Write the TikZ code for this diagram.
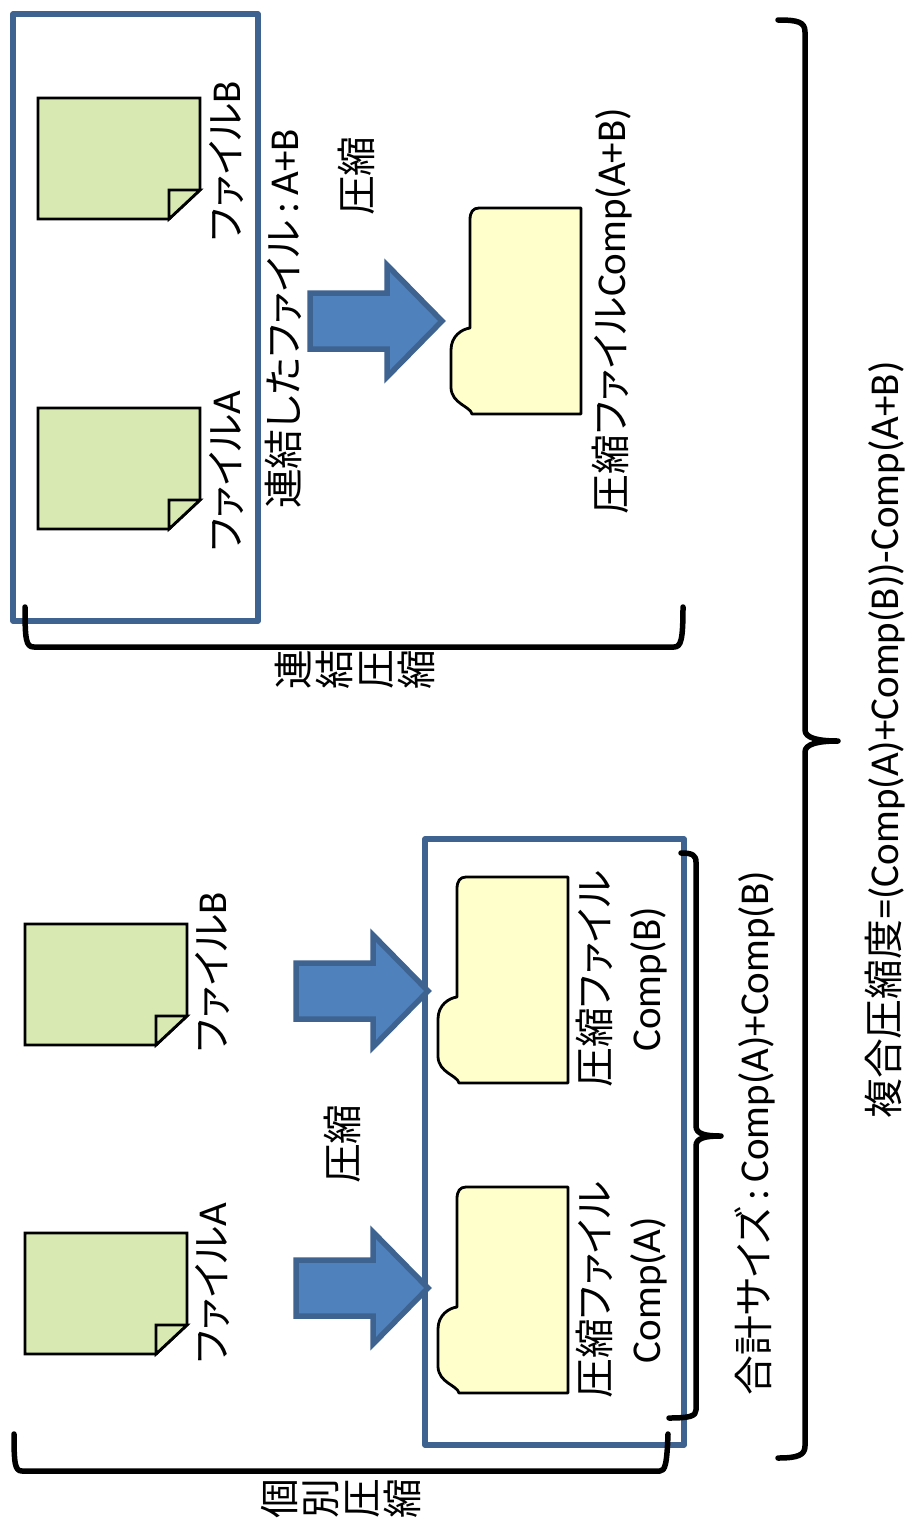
\documentclass[tikz,border=0pt]{standalone}
\usepackage{fontspec}
\usetikzlibrary{positioning}
\setmainfont{Carlito}
\newfontfamily\jp[Scale=0.97,RawFeature=+palt]{Noto Sans CJK JP}
\definecolor{framecol}{HTML}{3E6390}
\definecolor{arrowcol}{HTML}{4F81BD}
\definecolor{docgreen}{HTML}{D8E9B2}
\definecolor{compyellow}{HTML}{FFFFCC}
\tikzset{
    frameline/.style={draw=framecol, line width=5.5pt, line join=round},
    bracket/.style={draw=black, line width=5.5pt, line cap=round, line join=round},
    label/.style={rotate=90, inner sep=0pt, font=\fontsize{41}{51}\selectfont, align=center},
    filedoc/.pic={
        \draw[fill=docgreen, line width=2.8pt, line join=miter]
            (0,0) -- (162,0) -- (162,92) -- (131,121) -- (0,121) -- cycle;
        \draw[fill=docgreen, line width=2.8pt, line join=miter]
            (131,121) -- (131,92) -- (162,92) -- cycle;
    },
    compfile/.pic={
        \draw[fill=compyellow, line width=2.8pt, line join=round]
            (9,0) -- (111,0) -- (111,206) -- (2,206)
            .. controls (0,198) and (-18,196) .. (-19,180)
            -- (-19,142) .. controls (-19,128) and (-8,121) .. (0,120)
            -- (0,12) .. controls (0,4) and (3,0) .. (9,0) -- cycle;
    },
    bluearrow/.pic={
        \draw[fill=arrowcol, draw=framecol, line width=5.5pt, line join=miter]
            (0,-28) -- (77,-28) -- (77,-56) -- (132,0) -- (77,56) -- (77,28) -- (0,28) -- cycle;
    }
}

\begin{document}
\begin{tikzpicture}[x=1pt, y=-1pt]
\useasboundingbox (0,0) rectangle (909,1521);

%連結圧縮
\draw[frameline] (13,14) rectangle (258,621);
\pic at (38,98) {filedoc};
\pic at (38,408) {filedoc};
\pic at (310,321) {bluearrow};
\pic at (470,208) {compfile};
\node[label] (fileBtop) at (226,161) {{\jp ファイル}B};
\node[label] (fileAtop) at (226,471) {{\jp ファイル}A};
\node[label] (joined) at (283,319) {{\jp 連結したファイル}\,:\,A+B};
\node[label] (presstop) at (356,176) {{\jp 圧縮}};
\node[label] (compAB) at (612,311) {{\jp 圧縮ファイル}Comp(A+B)};
\draw[bracket] (25,607) .. controls (25,640) and (26,647) .. (34,647)
    -- (674,647) .. controls (681,647) and (683,640) .. (683,607);
\node[label, font=\jp\fontsize{41}{41}\selectfont] (joinlabel) at (355,670) {連\\結\\圧\\縮};

% 個別圧縮
\draw[frameline] (425,839) rectangle (684,1445);
\pic at (25,924) {filedoc};
\pic at (25,1233) {filedoc};
\pic at (296,991) {bluearrow};
\pic at (296,1288) {bluearrow};
\pic at (457,877) {compfile};
\pic at (457,1187) {compfile};
\node[label] (fileBlow) at (212,972) {{\jp ファイル}B};
\node[label] (fileAlow) at (212,1283) {{\jp ファイル}A};
\node[label] (presslow) at (342,1144) {{\jp 圧縮}};
\node[label] (compB) at (622,979) {{\jp 圧縮ファイル}\\Comp(B)};
\node[label] (compA) at (622,1290) {{\jp 圧縮ファイル}\\Comp(A)};
\draw[bracket] (14,1434) .. controls (14,1464) and (15,1471) .. (22,1471)
    -- (660,1471) .. controls (665,1471) and (667,1464) .. (668,1434);
\node[label, font=\jp\fontsize{41}{41}\selectfont] (splitlabel) at (341,1499) {個\\別\\圧\\縮};

% 合計サイズ
\draw[bracket] (681,853) .. controls (692,853) and (696,855) .. (696,862)
    -- (696,1126) .. controls (696,1134) and (705,1136) .. (721,1136)
    .. controls (705,1136) and (696,1138) .. (696,1146)
    -- (696,1410) .. controls (696,1416) and (690,1418) .. (669,1418);
\node[label] (sumsize) at (755,1133) {{\jp 合計サイズ}\,:\,Comp(A)+Comp(B)};

% 複合圧縮度
\draw[bracket] (778,20) .. controls (798,20) and (805,22) .. (805,32)
    -- (805,730) .. controls (805,738) and (818,741) .. (838,741)
    .. controls (818,741) and (805,744) .. (805,752)
    -- (805,1446) .. controls (805,1455) and (798,1458) .. (778,1458);
\node[label] (ratio) at (885,740) {{\jp 複合圧縮度}=(Comp(A)+Comp(B))-Comp(A+B)};
\end{tikzpicture}
\end{document}
